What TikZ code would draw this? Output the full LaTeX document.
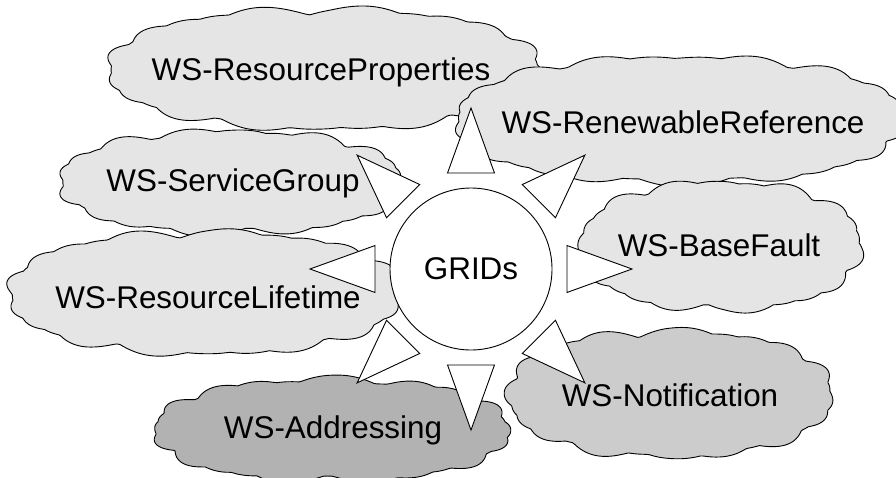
\documentclass[tikz,border=0pt]{standalone}
\usepackage{fontspec}
\setmainfont{Liberation Sans}
\usetikzlibrary{calc}
\definecolor{cloudlight}{gray}{0.9}
\definecolor{cloudmid}{gray}{0.8}
\definecolor{clouddark}{gray}{0.7}
% #1 options, #2 cx, #3 cy, #4 rx, #5 ry, #6 k1, #7 phase1, #8 k2, #9 phase2
\newcommand{\cloudoutline}[9]{%
  \draw[cloudline,#1] plot[domain=0:360, samples=361, variable=\t]
   ({#2 + #4*cos(\t)*(abs(cos(\t))+0.0001)^(-0.1)
      + 10*(0.55*abs(sin(#6*\t+#7))+0.45*abs(sin(#8*\t+#9)))*cos(\t)},
    {#3 + #5*sin(\t)*(abs(sin(\t))+0.0001)^(-0.1)
      + 10*(0.55*abs(sin(#6*\t+#7))+0.45*abs(sin(#8*\t+#9)))*sin(\t)}) -- cycle;}
\begin{document}
\begin{tikzpicture}[x=1pt,y=-1pt,
  cloudline/.style={draw=black, line width=0.9pt, fill=cloudlight, line join=round},
  cloudtext/.style={inner sep=0pt, font=\fontsize{31.4}{36}\selectfont},
  hub/.style={circle, draw=black, line width=0.9pt, fill=white, inner sep=0pt,
    minimum size=162pt, font=\fontsize{31.4}{36}\selectfont},
  tri/.style={draw=black, line width=0.9pt, fill=white, line join=miter}
]
\useasboundingbox (0,0) rectangle (896,477);
% clouds (outline, then its label)
\cloudoutline{}{324.5}{69}{210}{54}{6}{20}{8.5}{70}
\node[cloudtext] (rp) at (321,72) {WS-ResourceProperties};
\cloudoutline{}{680}{120}{217}{57}{6.5}{50}{9}{10}
\node[cloudtext] (rr) at (683,122) {WS-RenewableReference};
\cloudoutline{}{231}{182}{165}{45}{5.5}{80}{8}{30}
\node[cloudtext] (sg) at (233,183) {WS-ServiceGroup};
\cloudoutline{}{205}{293}{190}{55}{6}{35}{8.5}{100}
\node[cloudtext] (rl) at (208,297) {WS-ResourceLifetime};
\cloudoutline{}{721}{246}{134}{58}{5}{60}{7.5}{15}
\node[cloudtext] (bf) at (719,245) {WS-BaseFault};
\cloudoutline{fill=cloudmid}{670}{394}{156}{57}{5.5}{10}{8}{75}
\node[cloudtext] (wn) at (670,395) {WS-Notification};
\cloudoutline{fill=clouddark}{332}{430}{171}{45}{5.5}{45}{8.5}{120}
\node[cloudtext] (wa) at (333,430) {WS-Addressing};
% hub
\node[hub] (g) at (471,269) {GRIDs};
% triangles pointing outward
\foreach \a in {0,45,...,315}{
  \draw[tri] ($(g.center)+(\a+13.75:98.8pt)$) -- ($(g.center)+(\a:161pt)$) -- ($(g.center)+(\a-13.75:98.8pt)$) -- cycle;
}
\end{tikzpicture}
\end{document}
